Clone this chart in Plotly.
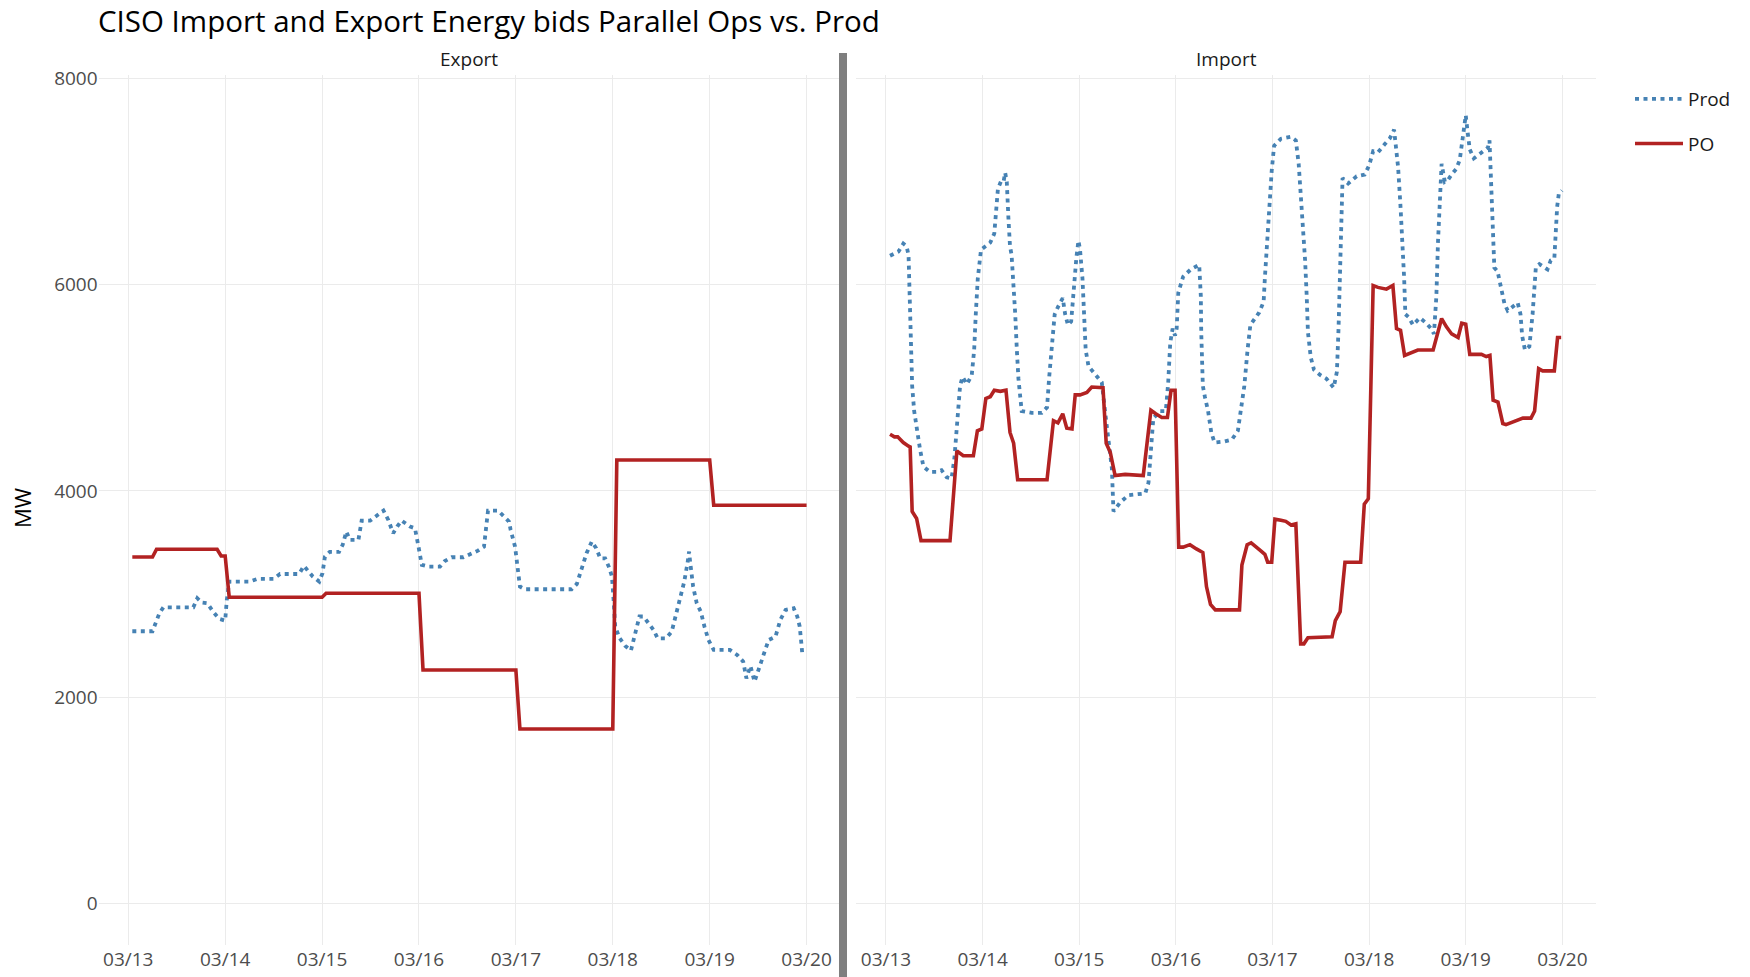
import pandas as pd
import plotly.graph_objects as go

# ---------------- data (hours after 03/13 00:00, MW) ----------------
base_date = "2019-03-13"
day_ticks = ["03/13", "03/14", "03/15", "03/16", "03/17", "03/18", "03/19", "03/20"]

export_po = [(1, 3360), (6, 3360), (7, 3435), (22, 3435), (23, 3370), (24, 3370), (25, 2970),
             (48, 2970), (49, 3008), (72, 3008), (73, 2265), (96, 2265), (97, 1693), (120, 1693),
             (121, 4300), (144, 4300), (145, 3861), (168, 3861)]

export_prod = [(1, 2640), (6, 2640), (7.7, 2814), (8.7, 2872), (16.1, 2872), (17.1, 2960), (18.2, 2918),
               (19.6, 2911), (21, 2830), (22.5, 2760), (24, 2743), (24.4, 2943), (25, 3121), (30, 3121),
               (32, 3147), (36, 3147), (37.6, 3195), (42.3, 3195), (43.5, 3273), (45.7, 3170), (47.3, 3121),
               (48.1, 3202), (48.7, 3363), (49.9, 3409), (52.2, 3409), (53.1, 3477), (54, 3606), (54.9, 3525),
               (57, 3525), (57.8, 3712), (59.9, 3712), (61.5, 3758), (63.2, 3809), (64.4, 3719), (65.6, 3590),
               (66.6, 3654), (67.7, 3712), (69.8, 3654), (71, 3638), (71.8, 3477), (72.7, 3283), (74.3, 3267),
               (77.2, 3267), (78.4, 3321), (80.1, 3357), (83, 3357), (84.6, 3386), (86.6, 3421), (88.1, 3460),
               (88.7, 3654), (89.1, 3809), (91.6, 3809), (92.8, 3767), (94.3, 3703), (94.7, 3622), (95.8, 3460),
               (96.3, 3299), (96.7, 3170), (97, 3073), (98.2, 3047), (109.8, 3047), (111.1, 3099), (112.3, 3251),
               (113.5, 3396), (114.8, 3509), (115.9, 3444), (116.9, 3347), (118.1, 3347), (119, 3267),
               (119.8, 3170), (120.2, 2943), (120.6, 2686), (121.7, 2572), (123.1, 2498), (124.5, 2453),
               (125.5, 2615), (126.6, 2783), (127.6, 2783), (128.9, 2718), (130.1, 2653), (131.1, 2572),
               (133.2, 2572), (134.6, 2637), (135.7, 2799), (136.7, 2976), (137.7, 3121), (138.5, 3299),
               (138.9, 3412), (139.2, 3299), (139.9, 3073), (140.8, 2911), (141.8, 2830), (142.7, 2686),
               (143.7, 2556), (145, 2459), (149, 2459), (150.8, 2411), (152.3, 2346), (153.1, 2184),
               (154.1, 2304), (155.1, 2152), (156.2, 2272), (157.6, 2443), (158.6, 2556), (160.3, 2588),
               (161.5, 2750), (162.8, 2847), (164.8, 2863), (165.7, 2782), (166.3, 2686), (166.7, 2524),
               (167, 2395)]

import_po = [(1, 4549), (2.1, 4524), (2.9, 4524), (4.3, 4469), (5.6, 4434), (6, 4427), (6.5, 3802),
             (7.6, 3733), (8.7, 3518), (15.9, 3518), (17.6, 4386), (19.2, 4340), (21.7, 4340), (22.7, 4583),
             (23.8, 4601), (24.8, 4896), (25.9, 4913), (26.9, 4976), (28.4, 4965), (29.8, 4976), (30.8, 4566),
             (31.7, 4462), (32.7, 4108), (40, 4108), (41.6, 4681), (42.7, 4660), (43.9, 4747), (44.9, 4608),
             (46.2, 4601), (47, 4931), (48.2, 4931), (49.9, 4955), (51.1, 5007), (52.8, 5007), (53.9, 5000),
             (54.7, 4462), (55.7, 4375), (56.9, 4149), (59.4, 4160), (63.9, 4149), (65.8, 4781), (67, 4747),
             (68.5, 4712), (69.9, 4712), (70.8, 4976), (71.8, 4976), (72.7, 3455), (73.8, 3455), (75.5, 3479),
             (77.1, 3438), (78.7, 3403), (79.6, 3073), (80.6, 2900), (81.8, 2847), (87.8, 2847), (88.4, 3281),
             (89.7, 3479), (90.7, 3497), (91.9, 3462), (93.1, 3420), (94.1, 3386), (94.8, 3309), (95.8, 3309),
             (96.6, 3726), (98.1, 3715), (99.3, 3705), (100.6, 3670), (101.8, 3681), (103, 2518), (103.8, 2518),
             (104.8, 2577), (110.8, 2587), (111.6, 2743), (112.8, 2830), (114, 3309), (117.9, 3309),
             (118.8, 3872), (119.8, 3924), (121, 5990), (122.2, 5972), (124.3, 5955), (125.9, 5990),
             (126.8, 5573), (127.8, 5556), (128.8, 5313), (130.1, 5330), (132.1, 5365), (135.9, 5365),
             (137, 5521), (138, 5670), (139.2, 5590), (140.5, 5521), (142.1, 5486), (143, 5625), (144, 5615),
             (145, 5323), (147.9, 5323), (149.1, 5302), (150, 5313), (150.8, 4879), (152, 4861), (153.2, 4653),
             (154, 4642), (156.5, 4677), (158.2, 4705), (160.2, 4705), (161.1, 4774), (162.1, 5184),
             (163.1, 5163), (166, 5163), (166.8, 5486), (167.7, 5486)]

import_prod = [(1, 6278), (3.1, 6319), (4.3, 6396), (5.1, 6371), (5.6, 6285), (5.8, 5990), (6, 5712),
               (6.2, 5365), (6.5, 5017), (7, 4774), (7.6, 4601), (8.5, 4392), (9.3, 4236), (10.9, 4184),
               (12.6, 4184), (13.8, 4201), (15.1, 4132), (16.3, 4122), (17, 4323), (17.6, 4670), (18.4, 5017),
               (19, 5104), (20.1, 5035), (21.3, 5122), (21.9, 5365), (22.3, 5712), (22.8, 6059), (23.6, 6337),
               (25.9, 6406), (26.9, 6493), (27.3, 6649), (27.8, 6927), (28.6, 7003), (29.2, 6996), (29.6, 7083),
               (30, 6996), (30.4, 6649), (30.8, 6371), (31.2, 6285), (31.6, 6059), (32.1, 5712), (32.5, 5365),
               (32.9, 5087), (33.7, 4774), (36.2, 4757), (38.7, 4757), (40, 4809), (40.5, 5087), (41.2, 5434),
               (41.9, 5712), (42.7, 5781), (43.9, 5868), (44.5, 5712), (45.2, 5608), (46, 5643), (46.6, 5955),
               (47.3, 6267), (47.8, 6424), (48.2, 6337), (48.8, 6059), (49.3, 5712), (49.6, 5365), (50.3, 5208),
               (52, 5122), (53.6, 5052), (54.5, 4740), (55.3, 4497), (56.1, 4219), (56.5, 3802), (58.2, 3889),
               (60.2, 3958), (64.4, 3976), (65.2, 4080), (65.8, 4392), (66.4, 4705), (68.1, 4774), (69.5, 4774),
               (70.1, 5052), (70.6, 5434), (71.2, 5573), (71.8, 5504), (72.2, 5573), (72.6, 5920), (73.8, 6076),
               (75.7, 6146), (77.8, 6191), (78.2, 5885), (78.3, 5538), (78.7, 5017), (79.2, 4913), (80, 4774),
               (80.8, 4566), (81.6, 4469), (84.1, 4479), (85.9, 4497), (87.4, 4583), (88.2, 4774), (89, 5017),
               (89.8, 5365), (90.5, 5608), (92.7, 5729), (93.8, 5833), (94.1, 6059), (94.6, 6406), (95.2, 6753),
               (95.8, 7101), (96.4, 7344), (98.1, 7413), (100.6, 7431), (101.8, 7396), (102.5, 7170), (103, 6892),
               (103.6, 6580), (104.1, 6233), (104.5, 5885), (104.8, 5538), (105.5, 5295), (106.3, 5174),
               (107.9, 5122), (109.4, 5087), (111.2, 5000), (112, 5156), (112.4, 5573), (112.8, 6233),
               (113.4, 7031), (114.8, 6979), (116.9, 7049), (118.9, 7066), (120, 7153), (121, 7292),
               (122.2, 7281), (123.9, 7361), (125.1, 7413), (126.2, 7500), (126.4, 7413), (127.2, 7135),
               (127.8, 6753), (128.4, 6337), (128.7, 6059), (129, 5712), (129.8, 5684), (130.9, 5608),
               (132.6, 5677), (134.2, 5625), (135.4, 5573), (136.1, 5521), (136.7, 5885), (137.1, 6406),
               (137.8, 6996), (138, 7170), (138.8, 6996), (139.6, 7014), (140.5, 7066), (141.6, 7118),
               (142.5, 7205), (143.3, 7465), (144, 7639), (144.5, 7465), (145, 7309), (146, 7222), (147.8, 7274),
               (149.5, 7326), (149.9, 7396), (150.3, 6927), (150.7, 6406), (151.1, 6163), (151.9, 6128),
               (152.8, 5955), (153.6, 5816), (154.4, 5747), (155.7, 5781), (156.9, 5823), (157.6, 5712),
               (158, 5504), (158.7, 5365), (159.8, 5400), (160.6, 5712), (161.4, 6163), (162.3, 6198),
               (163.5, 6163), (164.3, 6146), (165.1, 6233), (166, 6250), (166.7, 6753), (167.1, 6875),
               (167.9, 6910)]

y_ticks = [0, 2000, 4000, 6000, 8000]

# ---------------- helpers ----------------
t0 = pd.Timestamp(base_date)


def to_xy(pairs):
    xs = [t0 + pd.Timedelta(hours=h) for h, _ in pairs]
    ys = [v for _, v in pairs]
    return xs, ys


PROD_COLOR = "#4682B4"
PO_COLOR = "#B22222"
FONT = "Open Sans, verdana, arial, sans-serif"

fig = go.Figure()

panels = [("x", "y", export_prod, export_po, True), ("x2", "y2", import_prod, import_po, False)]
for xa, ya, prod, po, show in panels:
    px_, py_ = to_xy(prod)
    fig.add_trace(go.Scatter(x=px_, y=py_, mode="lines", name="Prod", legendgroup="Prod",
                             showlegend=show, xaxis=xa, yaxis=ya,
                             line=dict(color=PROD_COLOR, width=3.8, dash="4px,4.5px")))
for xa, ya, prod, po, show in panels:
    ox, oy = to_xy(po)
    fig.add_trace(go.Scatter(x=ox, y=oy, mode="lines", name="PO", legendgroup="PO",
                             showlegend=show, xaxis=xa, yaxis=ya,
                             line=dict(color=PO_COLOR, width=3.6)))

W, H = 1750, 977
ML, MT = 98, 75
MR = W - 1596
MB = H - 945
PW, PH = W - ML - MR, H - MT - MB


def px2paper_x(p):
    return (p - ML) / PW


def px2paper_y(p):
    return (H - MB - p) / PH


xrange = [t0 + pd.Timedelta(hours=-7.35), t0 + pd.Timedelta(hours=176.35)]
tickvals = [t0 + pd.Timedelta(days=i) for i in range(len(day_ticks))]

common_x = dict(range=xrange, tickvals=tickvals, ticktext=day_ticks, showgrid=True,
                gridcolor="#ebebeb", gridwidth=1.3, zeroline=False, showline=False, ticks="",
                ticklabelstandoff=1, automargin=False,
                tickfont=dict(family=FONT, size=19, color="rgba(77,77,77,1)"))
common_y = dict(range=[-400, 8030], tickvals=y_ticks, showgrid=True, gridcolor="#ebebeb",
                gridwidth=1.3, zeroline=False, showline=False, ticks="", automargin=False,
                tickfont=dict(family=FONT, size=19, color="rgba(77,77,77,1)"))

fig.update_layout(
    width=W, height=H,
    margin=dict(l=ML, r=MR, t=MT, b=MB, autoexpand=False),
    paper_bgcolor="white", plot_bgcolor="white",
    font=dict(family=FONT, color="rgba(0,0,0,1)"),
    title=dict(text="CISO Import and Export Energy bids Parallel Ops vs. Prod",
               x=98 / W, xref="container", xanchor="left",
               y=1 - 22 / H, yref="container", yanchor="middle",
               font=dict(family=FONT, size=29.5, color="rgba(0,0,0,1)")),
    xaxis=dict(domain=[max(0, px2paper_x(98.6)), px2paper_x(840.3)], anchor="y", **common_x),
    xaxis2=dict(domain=[px2paper_x(856.4), 1.0], anchor="y2", **common_x),
    yaxis=dict(domain=[0, 1], anchor="x", **common_y),
    yaxis2=dict(domain=[0, 1], anchor="x2", matches="y", showticklabels=False,
                **{k: v for k, v in common_y.items() if k != "tickfont"}),
    legend=dict(x=px2paper_x(1630), xanchor="left", y=px2paper_y(80), yanchor="top",
                bgcolor="rgba(0,0,0,0)", tracegroupgap=17, itemwidth=48,
                font=dict(family=FONT, size=19, color="rgba(26,26,26,1)")),
    showlegend=True,
)

annotations = [
    dict(text="Export", x=(px2paper_x(98.6) + px2paper_x(840.3)) / 2, y=px2paper_y(59),
         xref="paper", yref="paper", showarrow=False, xanchor="center", yanchor="middle",
         font=dict(family=FONT, size=19, color="rgba(26,26,26,1)")),
    dict(text="Import", x=(px2paper_x(856.4) + 1.0) / 2, y=px2paper_y(59),
         xref="paper", yref="paper", showarrow=False, xanchor="center", yanchor="middle",
         font=dict(family=FONT, size=19, color="rgba(26,26,26,1)")),
    dict(text="MW", x=px2paper_x(22), y=px2paper_y(508), xref="paper", yref="paper",
         showarrow=False, textangle=-90, xanchor="center", yanchor="middle",
         font=dict(family=FONT, size=22, color="rgba(0,0,0,1)")),
]
fig.update_layout(annotations=annotations)

fig.add_shape(type="line", xref="paper", yref="paper",
              x0=px2paper_x(843), x1=px2paper_x(843), y0=px2paper_y(985), y1=px2paper_y(53),
              line=dict(color="#7f7f7f", width=8), layer="above")

fig.write_html("out.html", config={"displayModeBar": False},
               post_script="document.body.style.margin='0';")
